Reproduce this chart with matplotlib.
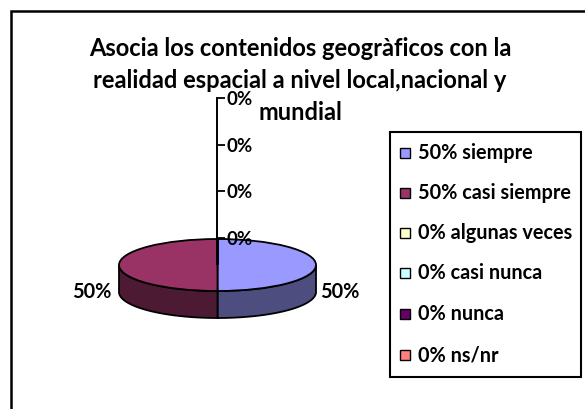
import numpy as np
import matplotlib
matplotlib.use("Agg")
import matplotlib.pyplot as plt
from matplotlib.patches import Rectangle, Polygon

W, H = 585, 409
categories = ["siempre", "casi siempre", "algunas veces", "casi nunca", "nunca", "ns/nr"]
values = [50, 50, 0, 0, 0, 0]
top_colors = ["#9999FF", "#993366", "#FFFFCC", "#CCFFFF", "#660066", "#FF8080"]
side_colors = ["#4D4D80", "#4D1A33", "#80805F", "#668080", "#330033", "#804040"]
axis_ticks = ["0%", "0%", "0%", "0%"]
title = "Asocia los contenidos geogràficos con la\nrealidad espacial a nivel local,nacional y\nmundial"

plt.rcParams["font.family"] = ["Lato", "DejaVu Sans"]
plt.rcParams["font.weight"] = "bold"
fig = plt.figure(figsize=(W / 100, H / 100), dpi=100, facecolor="white")
FS = 14.3

def px(x0, y0, x1, y1):
    return [x0 / W, 1 - y1 / H, (x1 - x0) / W, (y1 - y0) / H]

# outer frame: right and bottom edges fall outside the picture
fig.add_artist(Rectangle((11 / W, 1 - 420 / H), (600 - 11) / W, (420 - 11) / H, transform=fig.transFigure,
                         fc="white", ec="black", lw=1.8, zorder=-5))

# pie: ellipse is x 119-316, y 239-291
ax = fig.add_axes(px(119, 239, 316, 291))
ax.pie(values, colors=top_colors, startangle=90, counterclock=False, radius=1,
       wedgeprops=dict(edgecolor="black", linewidth=1.3), frame=False)
ax.set_aspect("auto")
ax.set_xlim(-1, 1)
ax.set_ylim(-1, 1)
ax.axis("off")
for p in ax.patches:
    p.set_clip_on(False)
    p.set_zorder(5)

# side wall (depth in axes units: 27 px of 26 px per unit)
depth = 27 / 26
total = sum(values)
start = 90.0
for v, c in zip(values, side_colors):
    end = start - 360 * v / total
    if v > 0:
        t = np.radians(np.linspace(start, end, 200))
        t = t[np.sin(t) <= 1e-9]
        x, y = np.cos(t), np.sin(t)
        pts = np.r_[np.c_[x, y], np.c_[x[::-1], y[::-1] - depth]]
        ax.add_patch(Polygon(pts, closed=True, fc=c, ec="black", lw=1.3, clip_on=False, zorder=2))
    start = end

# axis line and labels
axv = fig.add_axes(px(217, 98, 218, 238))
axv.set_xlim(0, 1)
axv.set_ylim(0, 3)
for s in ["top", "bottom", "right"]:
    axv.spines[s].set_visible(False)
axv.spines["left"].set_linewidth(1.4)
axv.patch.set_alpha(0)
axv.set_xticks([])
axv.yaxis.tick_right()
axv.set_yticks(range(len(axis_ticks)))
axv.set_yticklabels(axis_ticks, fontsize=FS - 0.8, fontweight="bold")
axv.tick_params(axis="y", length=5, width=1.3, pad=1, direction="out")
axv.set_zorder(6)

# pie labels
fig.text(92 / W, 1 - 292 / H, f"{values[1]}%", ha="center", va="center", fontsize=FS)
fig.text(340 / W, 1 - 292 / H, f"{values[0]}%", ha="center", va="center", fontsize=FS)

# title
fig.text(300 / W, 1 - 80.5 / H, title, ha="center", va="center", fontsize=17, linespacing=1.5)

# legend
fig.add_artist(Rectangle((390 / W, 1 - 377 / H), (581 - 390) / W, (377 - 132) / H, transform=fig.transFigure,
                         fc="white", ec="black", lw=1.5))
ys = [153, 193, 233, 273, 314, 355]
for name, val, col, y in zip(categories, values, top_colors, ys):
    fig.add_artist(Rectangle((400 / W, 1 - (y + 5) / H), 10 / W, 10 / H, transform=fig.transFigure,
                             fc=col, ec="black", lw=1.0))
    fig.text(418 / W, 1 - y / H, f"{val}% {name}", ha="left", va="center", fontsize=FS)

fig.savefig("out.png", dpi=100, facecolor="white")
